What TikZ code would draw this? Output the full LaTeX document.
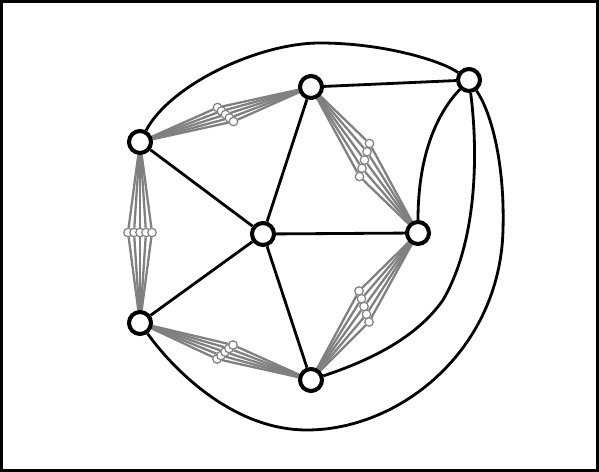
\documentclass[tikz,border=0pt]{standalone}
\usepackage{tikz}
\usetikzlibrary{backgrounds}

\begin{document}
\begin{tikzpicture}[x=0.02cm,y=-0.02cm,
    vtx/.style={draw,circle,fill=white,line width=2.3pt,minimum size=0.44cm,inner sep=0pt},
    sub/.style={draw=gray,circle,fill=white,line width=0.7pt,minimum size=0.17cm,inner sep=0pt},
    bund/.style={gray,line width=1.3pt},
    blk/.style={line width=1.6pt}]
  \useasboundingbox (0,0) rectangle (599,472);
  \draw[line width=1.4pt] (1.3,1.3) rectangle (597.7,470.7);

  \node[vtx] (v0) at (140,142) {};
  \node[vtx] (v1) at (311,87) {};
  \node[vtx] (v2) at (469,80) {};
  \node[vtx] (v3) at (263,234) {};
  \node[vtx] (v4) at (418,233) {};
  \node[vtx] (v5) at (140,323) {};
  \node[vtx] (v6) at (311,380) {};

  % small nodes of the gray bundles
  \node[sub] (a1) at (217.5,107.5) {}; \node[sub] (a2) at (221.5,111) {}; \node[sub] (a3) at (225.5,114.5) {};
  \node[sub] (a4) at (229.5,118) {}; \node[sub] (a5) at (233.5,121.5) {};
  \node[sub] (b1) at (128,232.5) {}; \node[sub] (b2) at (134,232.5) {}; \node[sub] (b3) at (140,232.5) {};
  \node[sub] (b4) at (146,232.5) {}; \node[sub] (b5) at (152,232.5) {};
  \node[sub] (c1) at (369.5,143.5) {}; \node[sub] (c2) at (367,151.75) {}; \node[sub] (c3) at (364.5,160) {};
  \node[sub] (c4) at (362,168.25) {}; \node[sub] (c5) at (359.5,176.5) {};
  \node[sub] (d1) at (359,291) {}; \node[sub] (d2) at (361.5,298.75) {}; \node[sub] (d3) at (364,306.5) {};
  \node[sub] (d4) at (366.5,314.25) {}; \node[sub] (d5) at (369,322) {};
  \node[sub] (e1) at (217,359) {}; \node[sub] (e2) at (221,355.5) {}; \node[sub] (e3) at (225,352) {};
  \node[sub] (e4) at (229,348.5) {}; \node[sub] (e5) at (233,345) {};

  \begin{scope}[on background layer]
    \path[bund] (v0) edge (a1) (v0) edge (a2) (v0) edge (a3) (v0) edge (a4) (v0) edge (a5)
      (a1) edge (v1) (a2) edge (v1) (a3) edge (v1) (a4) edge (v1) (a5) edge (v1);
    \path[bund] (v0) edge (b1) (v0) edge (b2) (v0) edge (b3) (v0) edge (b4) (v0) edge (b5)
      (b1) edge (v5) (b2) edge (v5) (b3) edge (v5) (b4) edge (v5) (b5) edge (v5);
    \path[bund] (v1) edge (c1) (v1) edge (c2) (v1) edge (c3) (v1) edge (c4) (v1) edge (c5)
      (c1) edge (v4) (c2) edge (v4) (c3) edge (v4) (c4) edge (v4) (c5) edge (v4);
    \path[bund] (v4) edge (d1) (v4) edge (d2) (v4) edge (d3) (v4) edge (d4) (v4) edge (d5)
      (d1) edge (v6) (d2) edge (v6) (d3) edge (v6) (d4) edge (v6) (d5) edge (v6);
    \path[bund] (v5) edge (e1) (v5) edge (e2) (v5) edge (e3) (v5) edge (e4) (v5) edge (e5)
      (e1) edge (v6) (e2) edge (v6) (e3) edge (v6) (e4) edge (v6) (e5) edge (v6);
  \end{scope}

  \path[blk] (v0) edge (v3) (v1) edge (v3) (v1) edge (v2) (v3) edge (v4) (v3) edge (v5) (v3) edge (v6);
  \draw[blk] (v0) .. controls (170,85) and (258,43) .. (320,43) .. controls (382,43) and (440,60) .. (v2);
  \draw[blk] (v5) .. controls (170,365) and (230,430) .. (307,430) .. controls (400,430) and (500,350) .. (503,230)
    .. controls (505,160) and (490,110) .. (v2);
  \draw[blk] (v2) .. controls (478,150) and (478,240) .. (443,300) .. controls (415,340) and (365,362) .. (v6);
  \draw[blk] (v2) .. controls (440,110) and (418,150) .. (v4);
\end{tikzpicture}
\end{document}
